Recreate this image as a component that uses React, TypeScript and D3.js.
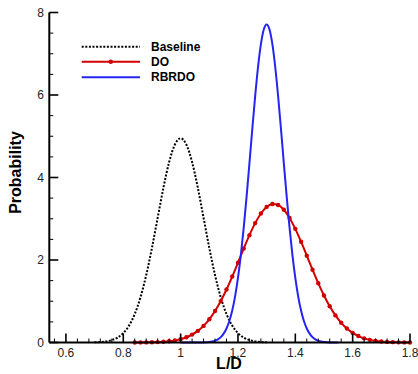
import React from "react";
import * as d3 from "d3";

// Baseline: x from 0.70 to 1.30 step 0.02
const baselineX = [0.70,0.72,0.74,0.76,0.78,0.80,0.82,0.84,0.86,0.88,0.90,0.92,0.94,0.96,0.98,1.00,1.02,1.04,1.06,1.08,1.10,1.12,1.14,1.16,1.18,1.20,1.22,1.24,1.26,1.28,1.30];
const baselineY = [0.005,0.012,0.027,0.059,0.119,0.228,0.409,0.690,1.095,1.634,2.293,3.024,3.752,4.376,4.80,4.95,4.80,4.376,3.752,3.024,2.293,1.634,1.095,0.690,0.409,0.228,0.119,0.059,0.027,0.012,0.005];

// DO: x from 0.84 to 1.80 step 0.02
const doX = [0.84,0.86,0.88,0.90,0.92,0.94,0.96,0.98,1.00,1.02,1.04,1.06,1.08,1.10,1.12,1.14,1.16,1.18,1.20,1.22,1.24,1.26,1.28,1.30,1.32,1.34,1.36,1.38,1.40,1.42,1.44,1.46,1.48,1.50,1.52,1.54,1.56,1.58,1.60,1.62,1.64,1.66,1.68,1.70,1.72,1.74,1.76,1.78,1.80];
const doY = [0.001,0.002,0.003,0.006,0.010,0.018,0.030,0.050,0.081,0.126,0.191,0.281,0.403,0.562,0.762,1.004,1.285,1.599,1.935,2.277,2.603,2.894,3.128,3.287,3.357,3.333,3.218,3.020,2.755,2.443,2.106,1.765,1.438,1.139,0.877,0.657,0.478,0.338,0.233,0.156,0.101,0.064,0.039,0.023,0.014,0.008,0.004,0.002,0.001];

// RBRDO: x from 1.00 to 1.55 step 0.01
const rbrdoX = [1.00,1.01,1.02,1.03,1.04,1.05,1.06,1.07,1.08,1.09,1.10,1.11,1.12,1.13,1.14,1.15,1.16,1.17,1.18,1.19,1.20,1.21,1.22,1.23,1.24,1.25,1.26,1.27,1.28,1.29,1.30,1.31,1.32,1.33,1.34,1.35,1.36,1.37,1.38,1.39,1.40,1.41,1.42,1.43,1.44,1.45,1.46,1.47,1.48,1.49,1.50,1.51,1.52,1.53,1.54,1.55];
const rbrdoY = [0,0,0,0,0,0,0,0.001,0.003,0.007,0.013,0.024,0.044,0.077,0.130,0.214,0.339,0.521,0.776,1.120,1.566,2.120,2.780,3.530,4.343,5.176,5.974,6.679,7.233,7.588,7.71,7.588,7.233,6.679,5.974,5.176,4.343,3.530,2.780,2.120,1.566,1.120,0.776,0.521,0.339,0.214,0.130,0.077,0.044,0.024,0.013,0.007,0.003,0.001,0,0];

const xMajorTicks = [0.6, 0.8, 1.0, 1.2, 1.4, 1.6, 1.8];
const xTickLabels = ["0.6", "0.8", "1", "1.2", "1.4", "1.6", "1.8"];
const yMajorTicks = [0, 2, 4, 6, 8];
const yTickLabels = ["0", "2", "4", "6", "8"];
const legendLabels = ["Baseline", "DO", "RBRDO"];

const FONT = "'Liberation Sans', Arial, sans-serif";
const RED = "#d10000";
const BLUE = "#2424f5";

export default function App() {
  const W = 418, H = 374;
  const x = d3.scaleLinear().domain([0.542, 1.8]).range([49.3, 410]);
  const y = d3.scaleLinear().domain([0, 8]).range([342.5, 12.5]);

  const line = d3
    .line<[number, number]>()
    .x((d) => x(d[0]))
    .y((d) => y(d[1]))
    .curve(d3.curveMonotoneX);

  const base = baselineX.map((v, i) => [v, baselineY[i]] as [number, number]);
  const dop = doX.map((v, i) => [v, doY[i]] as [number, number]);
  const rb = rbrdoX.map((v, i) => [v, rbrdoY[i]] as [number, number]);

  const xMinor = d3.range(0.56, 1.8001, 0.04).filter(
    (v) => !xMajorTicks.some((m) => Math.abs(m - v) < 1e-6)
  );
  const yMinor = d3.range(0.5, 8, 0.5).filter((v) => Math.abs(v % 2) > 1e-6);

  const x0 = x(0.542);
  const yb = y(0);

  const legendY = [46.7, 61.7, 77.3];

  return (
    <svg
      width={W}
      height={H}
      style={{ position: "absolute", left: 0, top: 0, background: "#fff" }}
      fontFamily={FONT}
    >
      <rect width={W} height={H} fill="#fff" />
      {/* curves */}
      <path d={line(base) || ""} fill="none" stroke="#000" strokeWidth={2} strokeDasharray="2,1.6" />
      <path d={line(dop) || ""} fill="none" stroke={RED} strokeWidth={2} />
      {dop.map((d, i) => (
        <circle key={i} cx={x(d[0])} cy={y(d[1])} r={2.2} fill={RED} />
      ))}
      <path d={line(rb) || ""} fill="none" stroke={BLUE} strokeWidth={2} />

      {/* axes */}
      <line x1={x0} x2={x0} y1={y(8)} y2={yb} stroke="#000" strokeWidth={2} />
      <line x1={x0} x2={x(1.8)} y1={yb} y2={yb} stroke="#000" strokeWidth={2} />
      {xMajorTicks.map((t, i) => (
        <g key={"xm" + i}>
          <line x1={x(t)} x2={x(t)} y1={yb} y2={yb - 9} stroke="#000" strokeWidth={1.6} />
          <text x={x(t)} y={356.5} textAnchor="middle" fontSize={12} fill="#222">
            {xTickLabels[i]}
          </text>
        </g>
      ))}
      {xMinor.map((t, i) => (
        <line key={"xn" + i} x1={x(t)} x2={x(t)} y1={yb} y2={yb - 4} stroke="#000" strokeWidth={1} />
      ))}
      {yMajorTicks.map((t, i) => (
        <g key={"ym" + i}>
          <line x1={x0} x2={x0 + 9} y1={y(t)} y2={y(t)} stroke="#000" strokeWidth={1.6} />
          <text x={44} y={y(t) + 4.3} textAnchor="end" fontSize={12} fill="#222">
            {yTickLabels[i]}
          </text>
        </g>
      ))}
      {yMinor.map((t, i) => (
        <line key={"yn" + i} x1={x0} x2={x0 + 4} y1={y(t)} y2={y(t)} stroke="#000" strokeWidth={1} />
      ))}

      {/* axis titles */}
      <text x={229} y={369} textAnchor="middle" fontSize={16} fontWeight="bold" fill="#000">
        L/D
      </text>
      <text
        transform={`translate(20.5, 172.5) rotate(-90)`}
        textAnchor="middle"
        fontSize={16}
        fontWeight="bold"
        fill="#000"
      >
        Probability
      </text>

      {/* legend */}
      <line x1={81.7} x2={140} y1={legendY[0]} y2={legendY[0]} stroke="#000" strokeWidth={2} strokeDasharray="2,1.6" />
      <line x1={81.7} x2={140} y1={legendY[1]} y2={legendY[1]} stroke={RED} strokeWidth={2} />
      <circle cx={110.8} cy={legendY[1]} r={2.2} fill={RED} />
      <line x1={81.7} x2={140} y1={legendY[2]} y2={legendY[2]} stroke={BLUE} strokeWidth={2} />
      {legendLabels.map((l, i) => (
        <text key={l} x={151} y={legendY[i] + 3.8} fontSize={12} fontWeight="bold" fill="#000">
          {l}
        </text>
      ))}
    </svg>
  );
}
